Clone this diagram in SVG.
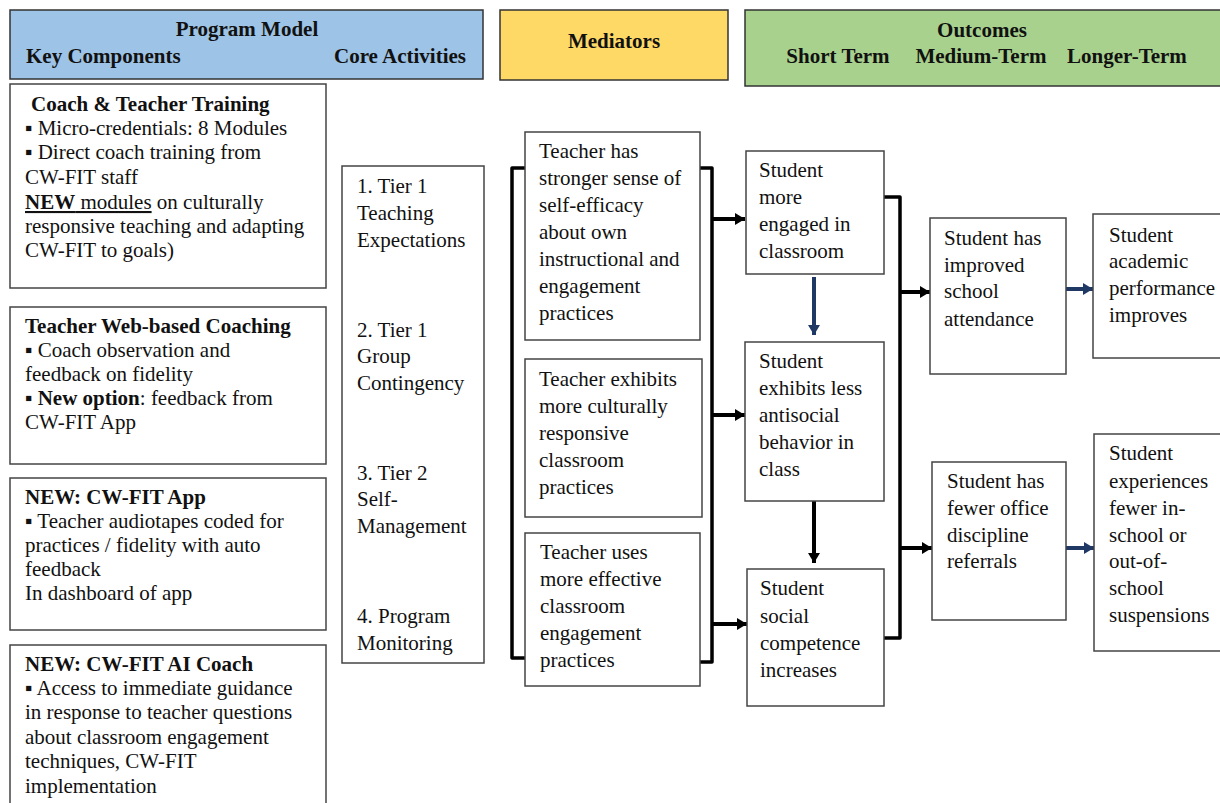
<svg xmlns="http://www.w3.org/2000/svg" width="1220" height="803" viewBox="0 0 1220 803">
<defs>
<style>
.t{font-family:"Liberation Serif","Times New Roman",serif;font-size:21px;fill:#111}
.b{font-weight:bold}
.h{font-family:"Liberation Serif","Times New Roman",serif;font-size:21px;font-weight:bold;fill:#111}
.box{fill:#fff;stroke:#444;stroke-width:1.5}
.conn{fill:none;stroke:#000;stroke-width:3.5;stroke-linejoin:round}
.arr{fill:none;stroke:#000;stroke-width:4}
.barr{fill:none;stroke:#1f3864;stroke-width:4}
</style>
<marker id="ah" markerUnits="userSpaceOnUse" markerWidth="10" markerHeight="12" refX="10" refY="6" orient="auto"><path d="M0,0 L10,6 L0,12 z" fill="#000"/></marker>
<marker id="bh" markerUnits="userSpaceOnUse" markerWidth="10" markerHeight="12" refX="10" refY="6" orient="auto"><path d="M0,0 L10,6 L0,12 z" fill="#1f3864"/></marker>
</defs>
<rect width="1220" height="803" fill="#fff"/>

<g id="hdr-program">
<rect x="10" y="10" width="473" height="69" fill="#9dc3e6" stroke="#333" stroke-width="1.5"/>
<text class="h" x="247" y="36" text-anchor="middle">Program Model</text>
<text class="h" x="26" y="63">Key Components</text>
<text class="h" x="466" y="63" text-anchor="end">Core Activities</text>
</g>
<g id="hdr-mediators">
<rect x="500" y="10" width="228" height="70" fill="#ffd966" stroke="#333" stroke-width="1.5"/>
<text class="h" x="614" y="48" text-anchor="middle">Mediators</text>
</g>
<g id="hdr-outcomes">
<rect x="745" y="10" width="480" height="76" fill="#a9d18e" stroke="#333" stroke-width="1.5"/>
<text class="h" x="982" y="37" text-anchor="middle">Outcomes</text>
<text class="h" x="838" y="63" text-anchor="middle">Short Term</text>
<text class="h" x="981" y="63" text-anchor="middle">Medium-Term</text>
<text class="h" x="1127" y="63" text-anchor="middle">Longer-Term</text>
</g>

<g id="kc-training">
<rect class="box" x="10" y="84" width="316" height="204"/>
<text class="t b" x="31" y="111">Coach &amp; Teacher Training</text>
<text class="t" x="25" y="135">▪ Micro-credentials: 8 Modules</text>
<text class="t" x="25" y="159">▪ Direct coach training from</text>
<text class="t" x="25" y="184">CW-FIT staff</text>
<text class="t" x="25" y="209"><tspan class="b" text-decoration="underline">NEW</tspan><tspan text-decoration="underline"> modules</tspan> on culturally</text>
<text class="t" x="25" y="233">responsive teaching and adapting</text>
<text class="t" x="25" y="257">CW-FIT to goals)</text>
</g>
<g id="kc-coaching">
<rect class="box" x="10" y="307" width="316" height="157"/>
<text class="t b" x="25" y="333">Teacher Web-based Coaching</text>
<text class="t" x="25" y="357">▪ Coach observation and</text>
<text class="t" x="25" y="381">feedback on fidelity</text>
<text class="t" x="25" y="405">▪ <tspan class="b">New option</tspan>: feedback from</text>
<text class="t" x="25" y="429">CW-FIT App</text>
</g>
<g id="kc-app">
<rect class="box" x="10" y="478" width="316" height="152"/>
<text class="t b" x="25" y="504">NEW: CW-FIT App</text>
<text class="t" x="25" y="528">▪ Teacher audiotapes coded for</text>
<text class="t" x="25" y="552">practices / fidelity with auto</text>
<text class="t" x="25" y="576">feedback</text>
<text class="t" x="25" y="600">In dashboard of app</text>
</g>
<g id="kc-ai">
<rect class="box" x="10" y="645" width="316" height="170"/>
<text class="t b" x="25" y="671">NEW: CW-FIT AI Coach</text>
<text class="t" x="25" y="695">▪ Access to immediate guidance</text>
<text class="t" x="25" y="719">in response to teacher questions</text>
<text class="t" x="25" y="744">about classroom engagement</text>
<text class="t" x="25" y="768">techniques, CW-FIT</text>
<text class="t" x="25" y="793">implementation</text>
</g>

<g id="core-activities">
<rect class="box" x="342" y="166" width="142" height="497"/>
<text class="t" x="357" y="193">1. Tier 1</text>
<text class="t" x="357" y="220">Teaching</text>
<text class="t" x="357" y="247">Expectations</text>
<text class="t" x="357" y="337">2. Tier 1</text>
<text class="t" x="357" y="363">Group</text>
<text class="t" x="357" y="390">Contingency</text>
<text class="t" x="357" y="480">3. Tier 2</text>
<text class="t" x="357" y="506">Self-</text>
<text class="t" x="357" y="533">Management</text>
<text class="t" x="357" y="623">4. Program</text>
<text class="t" x="357" y="650">Monitoring</text>
</g>

<g id="connectors">
<path class="conn" d="M525,168 H512 V658 H525"/>
<path class="conn" d="M700,168 H712 V662 H700"/>
<line class="arr" x1="712" y1="219" x2="745" y2="219" marker-end="url(#ah)"/>
<line class="arr" x1="712" y1="415" x2="745" y2="415" marker-end="url(#ah)"/>
<line class="arr" x1="712" y1="624" x2="747" y2="624" marker-end="url(#ah)"/>
<line class="barr" x1="814" y1="277" x2="814" y2="335" marker-end="url(#bh)"/>
<line class="arr" x1="814" y1="501" x2="814" y2="563" marker-end="url(#ah)"/>
<path class="conn" d="M884,197 H900 V638 H884"/>
<line class="arr" x1="900" y1="292" x2="930" y2="292" marker-end="url(#ah)"/>
<line class="arr" x1="900" y1="548" x2="932" y2="548" marker-end="url(#ah)"/>
<line class="barr" x1="1066" y1="289" x2="1093" y2="289" marker-end="url(#bh)"/>
<line class="barr" x1="1066" y1="548" x2="1094" y2="548" marker-end="url(#bh)"/>
</g>

<g id="med-selfefficacy">
<rect class="box" x="525" y="132" width="175" height="208"/>
<text class="t" x="539" y="158"> Teacher has</text>
<text class="t" x="539" y="185">stronger sense of</text>
<text class="t" x="539" y="212">self-efficacy</text>
<text class="t" x="539" y="239">about own</text>
<text class="t" x="539" y="266">instructional and</text>
<text class="t" x="539" y="293">engagement</text>
<text class="t" x="539" y="320">practices</text>
</g>
<g id="med-cultural">
<rect class="box" x="525" y="359" width="177" height="158"/>
<text class="t" x="539" y="386">Teacher exhibits</text>
<text class="t" x="539" y="413">more culturally</text>
<text class="t" x="539" y="440">responsive</text>
<text class="t" x="539" y="467">classroom</text>
<text class="t" x="539" y="494">practices</text>
</g>
<g id="med-engagement">
<rect class="box" x="525" y="533" width="175" height="153"/>
<text class="t" x="540" y="559">Teacher uses</text>
<text class="t" x="540" y="586">more effective</text>
<text class="t" x="540" y="613">classroom</text>
<text class="t" x="540" y="640">engagement</text>
<text class="t" x="540" y="667">practices</text>
</g>

<g id="st-engaged">
<rect class="box" x="746" y="151" width="138" height="123"/>
<text class="t" x="759" y="177">Student</text>
<text class="t" x="759" y="204">more</text>
<text class="t" x="759" y="231">engaged in</text>
<text class="t" x="759" y="258">classroom</text>
</g>
<g id="st-antisocial">
<rect class="box" x="745" y="342" width="139" height="159"/>
<text class="t" x="759" y="368">Student</text>
<text class="t" x="759" y="395">exhibits less</text>
<text class="t" x="759" y="422">antisocial</text>
<text class="t" x="759" y="449">behavior in</text>
<text class="t" x="759" y="476">class</text>
</g>
<g id="st-social">
<rect class="box" x="747" y="569" width="137" height="137"/>
<text class="t" x="760" y="595"> Student</text>
<text class="t" x="760" y="623">social</text>
<text class="t" x="760" y="650">competence</text>
<text class="t" x="760" y="677">increases</text>
</g>
<g id="mt-attendance">
<rect class="box" x="930" y="218" width="136" height="156"/>
<text class="t" x="944" y="245">Student has</text>
<text class="t" x="944" y="272">improved</text>
<text class="t" x="944" y="298">school</text>
<text class="t" x="944" y="326">attendance</text>
</g>
<g id="mt-referrals">
<rect class="box" x="932" y="462" width="134" height="158"/>
<text class="t" x="947" y="488">Student has</text>
<text class="t" x="947" y="515">fewer office</text>
<text class="t" x="947" y="542">discipline</text>
<text class="t" x="947" y="568">referrals</text>
</g>
<g id="lt-academic">
<rect class="box" x="1093" y="214" width="140" height="144"/>
<text class="t" x="1109" y="242">Student</text>
<text class="t" x="1109" y="268">academic</text>
<text class="t" x="1109" y="295">performance</text>
<text class="t" x="1109" y="322">improves</text>
</g>
<g id="lt-suspensions">
<rect class="box" x="1094" y="434" width="140" height="217"/>
<text class="t" x="1109" y="460">Student</text>
<text class="t" x="1109" y="488">experiences</text>
<text class="t" x="1109" y="515">fewer in-</text>
<text class="t" x="1109" y="542">school or</text>
<text class="t" x="1109" y="568">out-of-</text>
<text class="t" x="1109" y="595">school</text>
<text class="t" x="1109" y="622">suspensions</text>
</g>
</svg>
